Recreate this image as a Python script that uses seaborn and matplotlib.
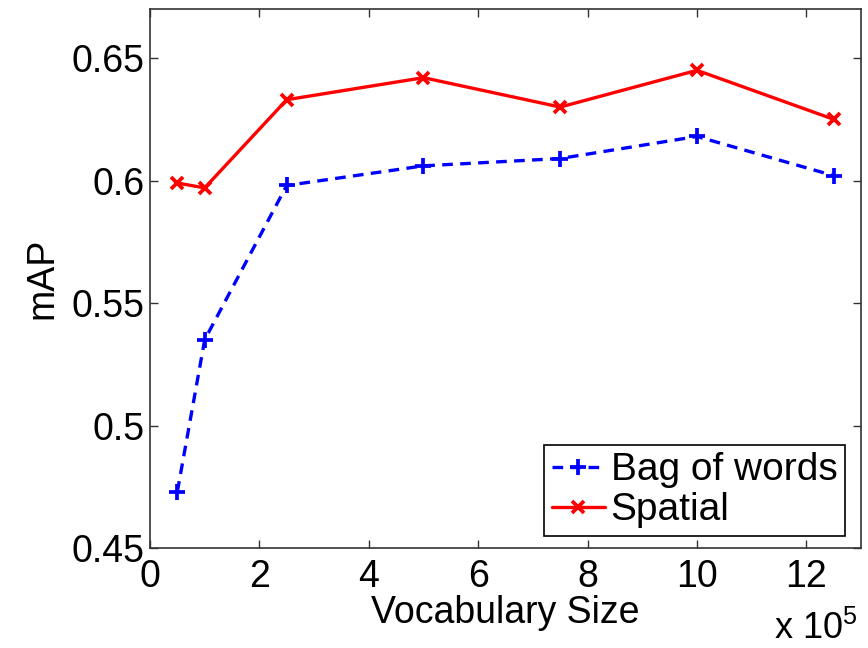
import pandas as pd
import numpy as np
import matplotlib
matplotlib.use("Agg")
import matplotlib.pyplot as plt
import seaborn as sns

# vocabulary size (x 10^5)
vocab_size = [0.5, 1, 2.5, 5, 7.5, 10, 12.5]
bow_map = [0.473, 0.535, 0.598, 0.606, 0.609, 0.618, 0.602]
spatial_map = [0.599, 0.597, 0.633, 0.642, 0.630, 0.645, 0.625]
x_ticks = [0, 2, 4, 6, 8, 10, 12]
y_ticks = [0.45, 0.5, 0.55, 0.6, 0.65]
y_tick_labels = ["0.45", "0.5", "0.55", "0.6", "0.65"]

bow_df = pd.DataFrame({"size": vocab_size, "mAP": bow_map})
spatial_df = pd.DataFrame({"size": vocab_size, "mAP": spatial_map})

sns.set_style("white")
plt.rcParams["font.family"] = ["Liberation Sans", "DejaVu Sans"]
plt.rcParams["mathtext.fontset"] = "custom"
plt.rcParams["mathtext.rm"] = "Liberation Sans"
plt.rcParams["text.color"] = "black"
plt.rcParams["axes.labelcolor"] = "black"

FS = 27

fig = plt.figure(figsize=(8.68, 6.48), dpi=100)
ax = fig.add_axes([0.1728, 0.1543, 0.8192, 0.8317])

# Bag of words: blue dashed with plus markers
sns.lineplot(data=bow_df, x="size", y="mAP", ax=ax, color="#0000ff",
             linewidth=2.4, linestyle=(0, (3.2, 2.2)),
             marker="+", markersize=12, markeredgewidth=2.7,
             markeredgecolor="#0000ff", label="Bag of words")
# Spatial: red solid with x markers
sns.lineplot(data=spatial_df, x="size", y="mAP", ax=ax, color="#ff0000",
             linewidth=2.4, linestyle="-",
             marker="x", markersize=9, markeredgewidth=2.7,
             markeredgecolor="#ff0000", label="Spatial")

ax.set_xlim(0, 13)
ax.set_ylim(0.45, 0.67)
ax.set_xticks(x_ticks)
ax.set_xticklabels([str(t) for t in x_ticks])
ax.set_yticks(y_ticks)
ax.set_yticklabels(y_tick_labels)
ax.tick_params(direction="in", length=6, width=1, colors="#333333",
               labelcolor="black", labelsize=FS, top=True, right=True,
               bottom=True, left=True)
ax.tick_params(axis="x", pad=8)
ax.tick_params(axis="y", pad=4)
for sp in ax.spines.values():
    sp.set_color("#333333")
    sp.set_linewidth(1.2)

ax.set_xlabel("Vocabulary Size", fontsize=FS, labelpad=0, color="black")
ax.set_ylabel("mAP", fontsize=FS, labelpad=8, color="black")
# exponent note in the bottom right corner, MATLAB style
ax.text(0.995, -0.168, r"x 10$^5$", transform=ax.transAxes, fontsize=26,
        ha="right", va="baseline", color="black")

leg = ax.legend(loc="lower right", bbox_to_anchor=(0.9775, 0.0223),
                borderaxespad=0, fontsize=28, handlelength=1.35,
                handletextpad=0.15, borderpad=0.2, labelspacing=0.1,
                fancybox=False, framealpha=1)
leg.get_frame().set_edgecolor("black")
leg.get_frame().set_linewidth(1.2)

fig.savefig("out.png", dpi=100)
